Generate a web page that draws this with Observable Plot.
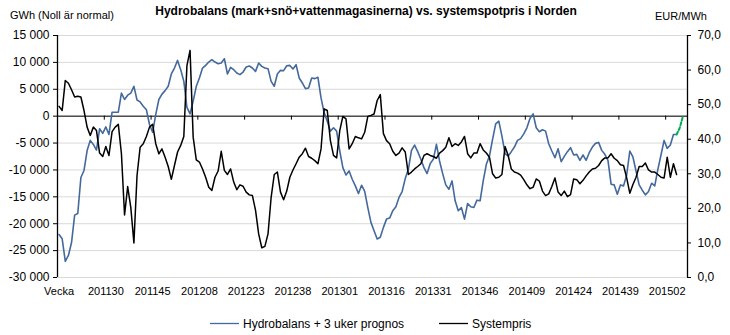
<!DOCTYPE html>
<html><head><meta charset="utf-8">
<script src="https://cdn.jsdelivr.net/npm/d3@7"></script>
<script src="https://cdn.jsdelivr.net/npm/@observablehq/plot@0.6"></script>
<style>
body{margin:0;background:#fff;font-family:"Liberation Sans",Arial,sans-serif;}
#wrap{position:relative;width:730px;height:335px;overflow:hidden;}
#wrap svg{position:absolute;left:0;top:0;}
.t{position:absolute;white-space:nowrap;color:#000;line-height:1;}
</style></head><body>
<div id="wrap"></div>
<script>
// x tick labels (every 15th week, first category header shown as "Vecka")
const tickLabels = ["Vecka","201130","201145","201208","201223","201238","201301","201316","201331","201346","201409","201424","201439","201502"];
const nWeeks = 202;          // 201115 .. 201508
const labelStep = 15;

// Hydrobalans + 3 uker prognos (GWh, left axis), one value per week from 201115
const hydro = [
-22000,-22800,-27000,-25900,-23500,-18400,-18100,-11400,-10100,-6400,
-4500,-5250,-6300,-2350,-3200,-2000,-3400,740,740,740,
4300,3100,3900,4300,5550,3000,2650,1850,1200,-1550,
-3000,300,3100,4100,4750,5550,7850,8950,10370,8650,
6500,1650,430,2800,5550,7100,8950,9450,10060,10500,
10060,9750,9880,10680,7840,9070,8640,8020,7720,8210,
9140,9320,8950,8330,9880,9260,8950,8830,6480,5560,
7840,8520,8460,9380,9440,8770,9570,7100,6170,5120,
5250,7100,6980,7220,3400,620,-930,-2780,-2160,-2780,
-6480,-9570,-10930,-10190,-11730,-12960,-14380,-12840,-14000,-17000,
-19750,-21300,-22840,-22530,-20680,-19140,-18950,-17590,-16850,-15120,
-14010,-11610,-9880,-6360,-5370,-6600,-8020,-9570,-10680,-8830,
-8020,-5250,-8330,-10680,-12780,-13580,-12040,-15740,-17590,-16980,
-19140,-16240,-16850,-16980,-15620,-15740,-12040,-8950,-7410,-4320,
-1420,-930,-3700,-6980,-7410,-6600,-5740,-4510,-4170,-3300,
-2160,-430,430,-2160,-2900,-2530,-2780,-5120,-6480,-7720,
-6050,-8460,-7470,-6600,-5860,-7220,-7100,-8210,-7220,-8210,
-6790,-5740,-5060,-4880,-6360,-7100,-8210,-12650,-12780,-14510,
-12780,-12960,-10930,-6480,-7590,-10190,-12780,-13770,-14630,-14010,
-12470,-12960,-9880,-7220,-4510,-5990,-5370,-3400,-3400
];
// 3-week forecast (green dashed), continuing from the last hydro week
const forecastStart = 198;
const hydroForecast = [-3400,-2200,-100];

// Systempris (EUR/MWh, right axis), one value per week from 201115
const spot = [
49.5,48.3,57.0,56.2,54.3,52.2,52.4,52.2,48.3,43.5,
41.1,43.5,42.5,36.0,35.0,37.9,35.3,42.2,43.5,44.3,
35.8,18.1,26.3,20.3,10.0,29.5,37.7,38.7,40.8,43.5,
44.3,38.7,35.8,37.2,34.8,32.1,28.4,32.4,36.3,38.2,
40.8,61.3,65.7,40.6,34.0,33.4,31.4,29.0,26.1,25.2,
29.0,30.8,36.5,31.0,29.8,31.4,27.6,25.4,26.8,26.4,
24.7,23.9,23.7,19.4,12.6,8.6,9.0,12.6,23.2,29.8,
30.5,24.7,22.5,25.0,29.0,31.1,32.9,34.8,35.8,37.4,
35.0,34.5,33.8,32.9,37.2,48.8,48.3,39.6,35.3,34.6,
42.5,46.6,45.9,37.2,38.7,40.8,40.4,40.1,42.0,46.6,
46.9,47.3,51.2,52.9,41.6,39.6,38.7,36.5,35.3,36.0,
37.5,36.3,29.8,30.5,31.4,32.1,32.9,35.3,35.8,35.3,
35.0,34.5,36.0,36.7,37.7,40.4,37.9,38.7,38.2,39.2,
40.8,35.8,34.6,36.0,36.0,38.7,36.9,36.0,34.8,30.0,
28.8,29.0,29.8,37.9,35.3,31.4,30.5,30.2,29.6,28.3,
26.8,25.7,26.1,28.5,27.9,25.0,23.7,24.2,26.3,28.8,
24.7,23.7,25.0,23.4,24.0,28.5,28.3,27.1,28.1,29.4,
30.5,31.4,31.6,32.4,33.8,34.6,34.6,35.8,34.5,33.8,
32.6,32.4,28.8,24.4,26.9,29.0,32.1,32.1,33.1,31.1,
30.5,30.5,29.8,29.0,28.8,34.8,29.0,32.9,29.8
];

const leftTicks = [-30000,-25000,-20000,-15000,-10000,-5000,0,5000,10000,15000];
const rightTicks = [0,10,20,30,40,50,60,70];

const blue = "#44699c";
const green = "#00b050";
const gridColor = "#d9d9d9";

const L0 = leftTicks[0], L1 = leftTicks[leftTicks.length-1], R1 = rightTicks[rightTicks.length-1];
const toLeft = v => L0 + v * (L1 - L0) / R1;
const xDomain = [-0.5, nWeeks - 0.5];

const hydroData = hydro.map((v,i) => ({i, v}));
const fcData = hydroForecast.map((v,k) => ({i: forecastStart + k, v}));
const spotData = spot.map((v,i) => ({i, v}));
const boundaries = tickLabels.map((_,k) => k*labelStep - 0.5);

const fmtL = v => (v < 0 ? "-" : "") + d3.format(",")(Math.abs(v)).replace(/,/g, " ");
const fmtR = v => v.toFixed(1).replace(".", ",");

const chart = Plot.plot({
  width: 730, height: 335,
  marginLeft: 57, marginRight: 43, marginTop: 35, marginBottom: 58,
  style: {fontFamily: "'Liberation Sans', Arial, sans-serif", fontSize: "12px", color: "#000", background: "#fff"},
  x: {type: "linear", domain: xDomain, axis: null},
  y: {domain: [L0, L1], axis: null},
  marks: [
    Plot.ruleY(leftTicks, {stroke: gridColor, strokeWidth: 1}),
    Plot.ruleY([0], {stroke: "#000", strokeWidth: 1}),
    Plot.ruleX(boundaries, {x: d => d, y1: 0, y2: 0, insetBottom: -4, stroke: "#000"}),
    Plot.ruleX([xDomain[0]], {stroke: "#000", strokeWidth: 1.3}),
    Plot.ruleX([xDomain[1]], {stroke: "#000", strokeWidth: 1.3}),
    Plot.ruleY(leftTicks, {y: d => d, x1: xDomain[0], x2: xDomain[0], insetLeft: -4, stroke: "#000"}),
    Plot.ruleY(rightTicks, {y: d => toLeft(d), x1: xDomain[1], x2: xDomain[1], insetRight: -4, stroke: "#000"}),
    Plot.line(hydroData, {x: "i", y: "v", stroke: blue, strokeWidth: 1.6}),
    Plot.line(spotData, {x: "i", y: d => toLeft(d.v), stroke: "#000", strokeWidth: 1.5}),
    Plot.line(fcData, {x: "i", y: "v", stroke: green, strokeWidth: 2, strokeDasharray: "3,2"}),
    Plot.text(leftTicks, {y: d => d, frameAnchor: "left", dx: -8, textAnchor: "end", text: fmtL, fontSize: 12, fill: "#000"}),
    Plot.text(rightTicks, {y: d => toLeft(d), frameAnchor: "right", dx: 10, textAnchor: "start", text: fmtR, fontSize: 12, fill: "#000"}),
    Plot.text(tickLabels, {x: (d,k) => k*labelStep, frameAnchor: "bottom", dy: 17, text: d => d, fontSize: 11, fill: "#000"})
  ]
});

const wrap = document.getElementById("wrap");
wrap.appendChild(chart);

function addText(txt, css) {
  const d = document.createElement("div");
  d.className = "t";
  d.textContent = txt;
  Object.assign(d.style, css);
  wrap.appendChild(d);
  return d;
}
addText("Hydrobalans (mark+snö+vattenmagasinerna) vs. systemspotpris i Norden",
  {left: "366px", top: "5px", transform: "translateX(-50%)", fontSize: "12px", fontWeight: "bold"});
addText("GWh (Noll är normal)", {left: "10px", top: "10px", fontSize: "11px"});
addText("EUR/MWh", {left: "655px", top: "11px", fontSize: "11px"});

// legend
const leg = document.createElementNS("http://www.w3.org/2000/svg", "svg");
leg.setAttribute("width", 730); leg.setAttribute("height", 335);
leg.style.position = "absolute"; leg.style.left = "0"; leg.style.top = "0"; leg.style.pointerEvents = "none";
const series = [{name: "Hydrobalans + 3 uker prognos", color: blue, x: 210}, {name: "Systempris", color: "#000", x: 439}];
for (const s of series) {
  const ln = document.createElementNS("http://www.w3.org/2000/svg", "line");
  ln.setAttribute("x1", s.x); ln.setAttribute("x2", s.x + 29);
  ln.setAttribute("y1", 323.5); ln.setAttribute("y2", 323.5);
  ln.setAttribute("stroke", s.color); ln.setAttribute("stroke-width", 1.3);
  leg.appendChild(ln);
  const tx = document.createElementNS("http://www.w3.org/2000/svg", "text");
  tx.setAttribute("x", s.x + 33); tx.setAttribute("y", 328);
  tx.setAttribute("font-size", 12); tx.setAttribute("font-family", "'Liberation Sans', Arial, sans-serif");
  tx.textContent = s.name;
  leg.appendChild(tx);
}
wrap.appendChild(leg);
</script>
</body></html>
